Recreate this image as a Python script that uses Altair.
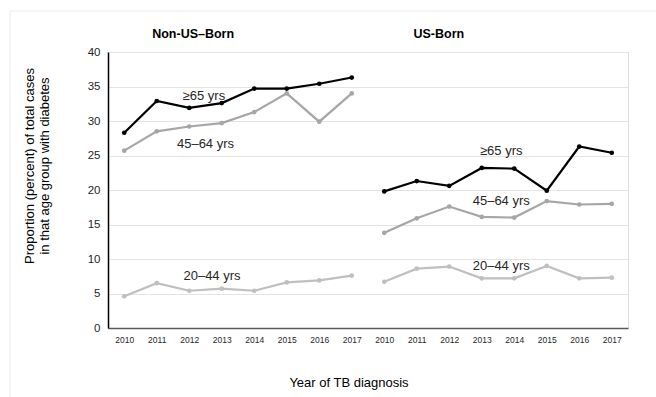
import altair as alt
import pandas as pd

years = [2010, 2011, 2012, 2013, 2014, 2015, 2016, 2017]
groups = ["≥65 yrs", "45–64 yrs", "20–44 yrs"]
group_colors = ["#000000", "#a6a6a6", "#bfbfbf"]

# Percent of TB cases with diabetes, by age group
non_us_65 = [28.3, 32.9, 31.9, 32.6, 34.7, 34.7, 35.4, 36.3]
non_us_45 = [25.7, 28.5, 29.2, 29.7, 31.3, 34.0, 29.9, 34.0]
non_us_20 = [4.6, 6.5, 5.4, 5.7, 5.4, 6.6, 6.9, 7.6]
us_65 = [19.8, 21.3, 20.6, 23.2, 23.1, 19.9, 26.3, 25.4]
us_45 = [13.8, 15.9, 17.6, 16.1, 16.0, 18.4, 17.9, 18.0]
us_20 = [6.7, 8.6, 8.9, 7.2, 7.2, 9.0, 7.2, 7.3]

panels = ["Non-US–Born", "US-Born"]
series = {
    "Non-US–Born": [non_us_65, non_us_45, non_us_20],
    "US-Born": [us_65, us_45, us_20],
}

rows = []
for p_i, panel in enumerate(panels):
    for g, vals in zip(groups, series[panel]):
        for y_i, (yr, v) in enumerate(zip(years, vals)):
            rows.append({"panel": panel, "group": g, "year": yr,
                         "slot": p_i * len(years) + y_i, "value": v})
df = pd.DataFrame(rows)

# In-chart series labels (slot position, value position)
label_text = groups + groups
label_slot = [2.45, 2.5, 2.7, 11.6, 11.6, 11.6]
label_value = [33.6, 26.6, 7.6, 25.6, 18.45, 9.05]
labels = pd.DataFrame({"text": label_text, "slot": label_slot, "value": label_value})

panel_title_slot = [2.12, 9.68]
titles = pd.DataFrame({"panel": panels, "slot": panel_title_slot})

x_scale = alt.Scale(domain=[-0.5, 15.5], nice=False, zero=False)
y_scale = alt.Scale(domain=[0, 40], nice=False)
color_scale = alt.Scale(domain=groups, range=group_colors)

x_axis = alt.Axis(
    values=list(range(16)),
    labelExpr="datum.value < 8 ? 2010 + datum.value : 2002 + datum.value",
    grid=False, ticks=False, domainColor="#595959", domainWidth=1.5,
    labelFontSize=8.5, labelColor="#262626", labelPadding=7, title=None,
    labelFont="Liberation Sans", labelOverlap=False, labelBound=False,
)
y_axis = alt.Axis(
    values=[0, 5, 10, 15, 20, 25, 30, 35, 40], grid=True, gridColor="#e3e3e3",
    gridWidth=1, ticks=False, domainColor="#000000", domainWidth=1.5,
    labelFontSize=11.5, labelColor="#262626", labelPadding=8, title=None,
    labelFont="Liberation Sans", labelOverlap=False,
)

X = alt.X("slot:Q", scale=x_scale, axis=x_axis)
Y = alt.Y("value:Q", scale=y_scale, axis=y_axis)

base = alt.Chart(df).encode(
    x=X, y=Y,
    color=alt.Color("group:N", scale=color_scale, legend=None),
    detail="panel:N",
)

lines = base.mark_line(strokeWidth=2.2)
points = base.mark_circle(size=22, opacity=1)

series_labels = alt.Chart(labels).mark_text(
    fontSize=13, font="Liberation Sans", color="#262626"
).encode(x=X, y=Y, text="text:N")

panel_titles = alt.Chart(titles).mark_text(
    fontSize=12.5, fontWeight="bold", font="Liberation Sans", color="#000000"
).encode(x=X, y=alt.value(-18), text="panel:N")

# Two-line y-axis title
y_title_1 = alt.Chart(pd.DataFrame({"t": ["Proportion (percent) of total cases"]})).mark_text(
    angle=270, fontSize=13, font="Liberation Sans", color="#000000",
    baseline="middle", align="center"
).encode(x=alt.value(-78), y=alt.value(114), text="t:N")
y_title_2 = alt.Chart(pd.DataFrame({"t": ["in that age group with diabetes"]})).mark_text(
    angle=270, fontSize=13, font="Liberation Sans", color="#000000",
    baseline="middle", align="center"
).encode(x=alt.value(-63), y=alt.value(114), text="t:N")

x_title = alt.Chart(pd.DataFrame({"t": ["Year of TB diagnosis"]})).mark_text(
    fontSize=13, font="Liberation Sans", color="#000000"
).encode(x=alt.value(241), y=alt.value(331), text="t:N")

# Light frame along the top and left edges
frame_top = alt.Chart(pd.DataFrame({"a": [0]})).mark_rule(
    color="#ececec", strokeWidth=1.2
).encode(x=alt.value(-98), x2=alt.value(560), y=alt.value(-41))
frame_left = alt.Chart(pd.DataFrame({"a": [0]})).mark_rule(
    color="#ececec", strokeWidth=1.2
).encode(x=alt.value(-98), y=alt.value(-41), y2=alt.value(360))

chart = alt.layer(
    frame_top, frame_left, lines, points, series_labels, panel_titles,
    y_title_1, y_title_2, x_title
).properties(
    width=520, height=276,
    autosize=alt.AutoSizeParams(type="none"),
    padding={"left": 108, "top": 52, "right": 28, "bottom": 69},
).configure_view(strokeWidth=0).configure(background="white")

chart.save("out.html", embed_options={"renderer": "svg", "actions": False})
